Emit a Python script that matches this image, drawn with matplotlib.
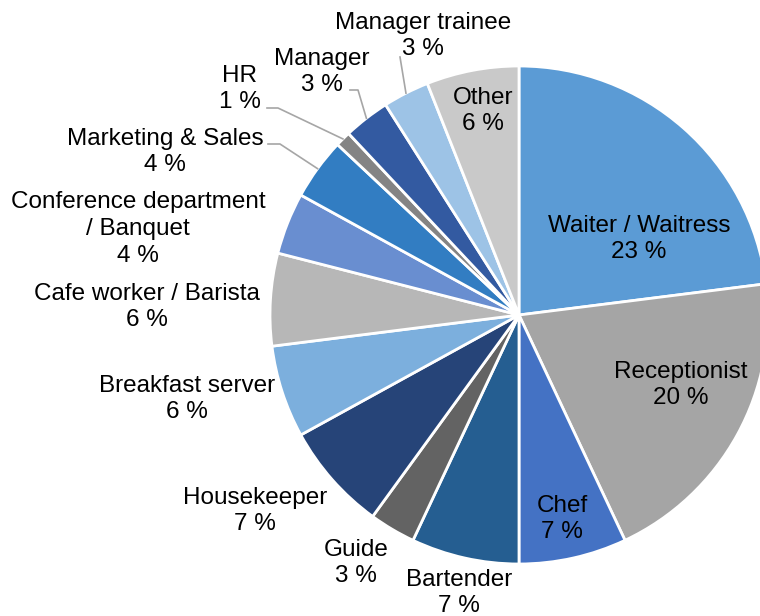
import numpy as np
import matplotlib.pyplot as plt

# Job share of respondents (%)
jobs = ['Waiter / Waitress', 'Receptionist', 'Chef', 'Bartender', 'Guide',
        'Housekeeper', 'Breakfast server', 'Cafe worker / Barista',
        'Conference department\n/ Banquet', 'Marketing & Sales', 'HR',
        'Manager', 'Manager trainee', 'Other']
shares = [23, 20, 7, 7, 3, 7, 6, 6, 4, 4, 1, 3, 3, 6]
colors = ['#5B9BD5', '#A5A5A5', '#4472C4', '#255E91', '#636363', '#264478',
          '#7CAFDD', '#B7B7B7', '#698ED0', '#327DC2', '#848484', '#335AA1',
          '#9DC3E6', '#C9C9C9']

# label block centres (pixels from top-left)
label_xy = [(639, 239), (681, 385), (562, 519), (459, 593), (356, 563),
            (255, 511), (187, 399), (147, 307), (138, 229), (165, 152),
            (240, 89), (322, 72), (423, 36), (483, 111)]
# leader line starts for the small outside labels
leaders = {9: [(268, 144), (280, 144)], 10: [(267, 108), (278, 108)],
           11: [(350, 90), (358, 90)], 12: [(400, 57)]}

W, H = 760, 616
cx, cy, R = 519, 315, 249

plt.rcParams['font.family'] = ['Liberation Sans', 'DejaVu Sans']
fig = plt.figure(figsize=(7.6, 6.16), dpi=100)
ax = fig.add_axes([0, 0, 1, 1])
wedges, _ = ax.pie(shares, colors=colors, center=(cx, H - cy), radius=R,
                   startangle=90, counterclock=False,
                   wedgeprops=dict(edgecolor='white', linewidth=2))
ax.set_xlim(0, W)
ax.set_ylim(0, H)
ax.set_aspect('equal')
ax.axis('off')

for i, (name, val) in enumerate(zip(jobs, shares)):
    x, y = label_xy[i]
    ax.text(x, H - y, f'{name}\n{val} %', ha='center', va='center',
            fontsize=17.5, color='black', linespacing=1.27)
    if i in leaders:
        w = wedges[i]
        ang = np.deg2rad((w.theta1 + w.theta2) / 2)
        ex = cx + R * np.cos(ang)
        ey = H - cy + R * np.sin(ang)
        pts = leaders[i]
        xs = [p[0] for p in pts] + [ex]
        ys = [H - p[1] for p in pts] + [ey]
        ax.plot(xs, ys, color='#A6A6A6', linewidth=1.2)

fig.savefig('out.png', dpi=100)
